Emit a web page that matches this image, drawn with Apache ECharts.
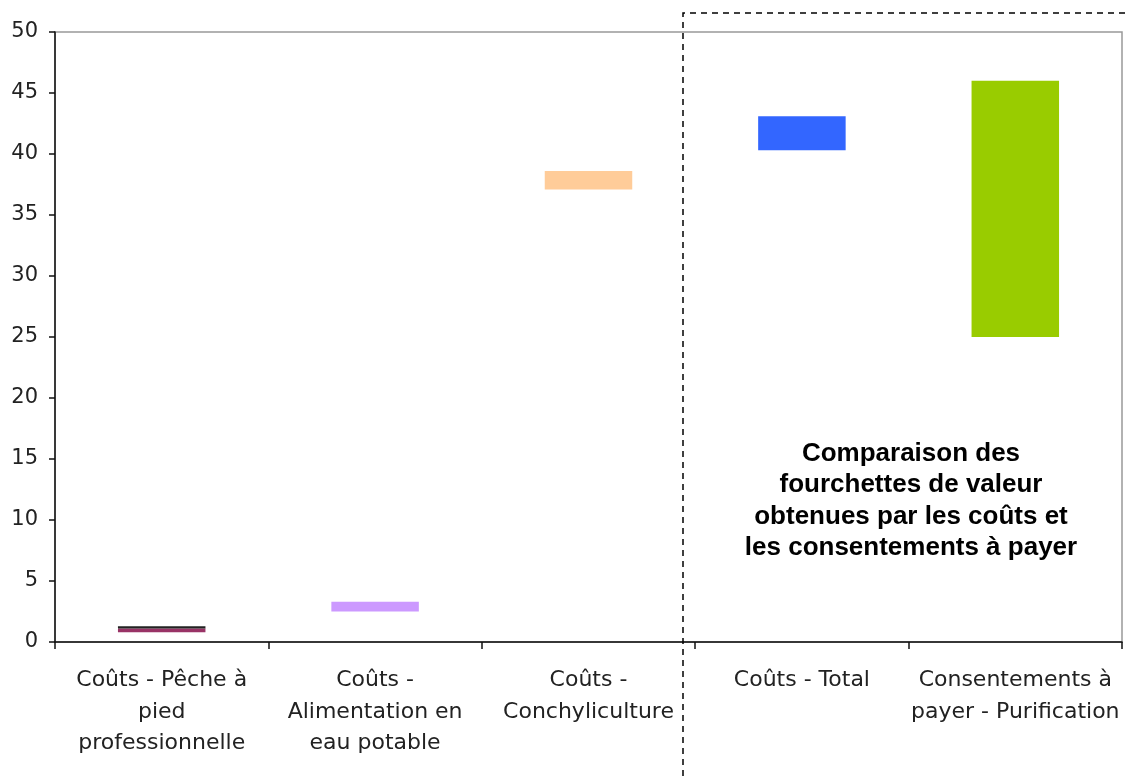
<!DOCTYPE html>
<html><head><meta charset="utf-8">
<script src="https://cdn.jsdelivr.net/npm/echarts@6/dist/echarts.min.js"></script>
<style>html,body{margin:0;padding:0;background:#fff}#c{width:1130px;height:776px}</style>
</head><body><div id="c"></div>
<script>
const categories = ["Coûts - Pêche à\npied\nprofessionnelle", "Coûts -\nAlimentation en\neau potable", "Coûts -\nConchyliculture", "Coûts - Total", "Consentements à\npayer - Purification"];
const lowValues = [0.8, 2.5, 37.1, 40.3, 25.0];
const highValues = [1.3, 3.3, 38.6, 43.1, 46.0];
const barColors = ["#993366", "#cc99ff", "#ffcc99", "#3366ff", "#99cc00"];
const annotation = "Comparaison des\nfourchettes de valeur\nobtenues par les coûts et\nles consentements à payer";
const shadowTop = [0.2, 0, 0, 0, 0];

const rangeData = lowValues.map((lo, i) => ({
  value: +(highValues[i] - lo - shadowTop[i]).toFixed(3),
  itemStyle: { color: barColors[i] }
}));

const chart = echarts.init(document.getElementById('c'));
const F = 'DejaVu Sans';
chart.setOption({
  animation: false,
  grid: { left: 55, right: 8, top: 32, bottom: 134, show: true, borderColor: '#999', borderWidth: 1.5 },
  xAxis: {
    type: 'category', data: categories,
    axisLine: { lineStyle: { color: '#111', width: 1.5 } },
    axisTick: { show: true, length: 7, lineStyle: { color: '#111', width: 1.5 } },
    axisLabel: { color: '#222', fontFamily: F, fontSize: 22, lineHeight: 31.5, margin: 23, interval: 0 }
  },
  yAxis: {
    type: 'value', min: 0, max: 50, interval: 5,
    axisLine: { show: true, lineStyle: { color: '#111', width: 1.5 } },
    axisTick: { show: true, length: 6, lineStyle: { color: '#111', width: 1.5 } },
    splitLine: { show: false },
    axisLabel: { color: '#222', fontFamily: F, fontSize: 21, margin: 17 }
  },
  series: [
    { type: 'bar', stack: 's', barWidth: '41%', data: lowValues, itemStyle: { color: 'transparent' }, silent: true },
    { type: 'bar', stack: 's', barWidth: '41%', data: rangeData },
    { type: 'bar', stack: 's', barWidth: '41%', data: shadowTop, itemStyle: { color: '#222' } }
  ],
  graphic: [
    { type: 'polyline', shape: { points: [[683, 776], [683, 13], [1130, 13]] },
      style: { stroke: '#000', lineWidth: 1.5, lineDash: [6, 5], fill: null }, z: 100 },
    { type: 'text', x: 911, y: 438, style: { text: annotation, textAlign: 'center', textVerticalAlign: 'top',
      font: 'bold 26px "Liberation Sans"', fill: '#000', lineHeight: 31.5 }, z: 100 }
  ]
});
</script></body></html>
